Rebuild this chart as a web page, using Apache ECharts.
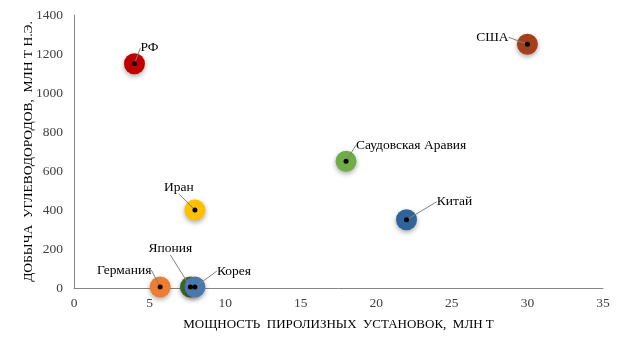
<!DOCTYPE html>
<html>
<head>
<meta charset="utf-8">
<script src="https://cdn.jsdelivr.net/npm/echarts@6/dist/echarts.min.js"></script>
<style>
  html, body { margin: 0; padding: 0; background: #fff; }
  #chart { width: 624px; height: 347px; }
</style>
</head>
<body>
<div id="chart"></div>
<script>
// Страны: мощность пиролизных установок (млн т) и добыча углеводородов (млн т н.э.)
const countries = ['РФ', 'США', 'Саудовская Аравия', 'Китай', 'Иран', 'Германия', 'Япония', 'Корея'];
const capacity = [4, 30, 18, 22, 8, 5.7, 7.7, 8];
const production = [1150, 1250, 650, 350, 400, 5, 5, 5];
const bubbleColors = ['#c00000', '#a3401b', '#70ad47', '#2e6499', '#ffc000', '#ed7d31', '#44692c', '#4a78ad'];

const xTicks = { min: 0, max: 35, interval: 5 };
const yTicks = { min: 0, max: 1400, interval: 200 };

// Смещения подписей относительно точек (px)
const labelOffsets = [
  [15, -16], [-35, -7], [65, -16], [48, -18],
  [-16, -23], [-36, -17], [-20, -39], [39, -16]
];

const serif = '"Liberation Serif", "Times New Roman", serif';

const bubbles = countries.map((name, i) => ({
  name: name,
  value: [capacity[i], production[i]],
  itemStyle: { color: bubbleColors[i] }
}));
const dots = countries.map((name, i) => ({
  name: name,
  value: [capacity[i], production[i]]
}));

const chart = echarts.init(document.getElementById('chart'), null, { renderer: 'canvas' });
chart.setOption({
  animation: false,
  grid: { left: 74, right: 21, top: 15, bottom: 59 },
  xAxis: {
    type: 'value',
    min: xTicks.min, max: xTicks.max, interval: xTicks.interval,
    name: 'МОЩНОСТЬ  ПИРОЛИЗНЫХ  УСТАНОВОК,  МЛН Т',
    nameLocation: 'middle',
    nameGap: 30,
    nameMoveOverlap: false,
    nameTextStyle: { fontFamily: serif, fontSize: 13, color: '#000' },
    axisLine: { lineStyle: { color: '#868686', width: 1 } },
    axisTick: { show: false },
    splitLine: { show: false },
    axisLabel: { fontFamily: serif, fontSize: 13.5, color: '#404040', margin: 8, formatter: v => String(v) }
  },
  yAxis: {
    type: 'value',
    min: yTicks.min, max: yTicks.max, interval: yTicks.interval,
    name: 'ДОБЫЧА  УГЛЕВОДОРОДОВ,  МЛН Т Н.Э.',
    nameLocation: 'middle',
    nameGap: 39,
    nameMoveOverlap: false,
    nameTextStyle: { fontFamily: serif, fontSize: 13.5, color: '#000' },
    axisLine: { show: true, lineStyle: { color: '#868686', width: 1 } },
    axisTick: { show: false },
    splitLine: { show: false },
    axisLabel: { fontFamily: serif, fontSize: 13.5, color: '#404040', margin: 11, formatter: v => String(v) }
  },
  series: [
    {
      type: 'scatter',
      symbolSize: 21,
      data: bubbles,
      itemStyle: {
        opacity: 1,
        shadowBlur: 5,
        shadowOffsetY: 2,
        shadowColor: 'rgba(0,0,0,0.35)'
      },
      emphasis: { disabled: true },
      z: 2
    },
    {
      type: 'scatter',
      symbolSize: 5,
      data: dots,
      itemStyle: { color: '#000', opacity: 1 },
      emphasis: { disabled: true },
      label: {
        show: true,
        position: 'inside',
        formatter: p => p.name,
        fontFamily: serif,
        fontSize: 13.5,
        color: '#000'
      },
      labelLine: {
        show: true,
        lineStyle: { color: '#7f7f7f', width: 1 }
      },
      labelLayout: function (params) {
        const o = labelOffsets[params.dataIndex];
        return { dx: o[0], dy: o[1] };
      },
      z: 3
    }
  ]
});
</script>
</body>
</html>
